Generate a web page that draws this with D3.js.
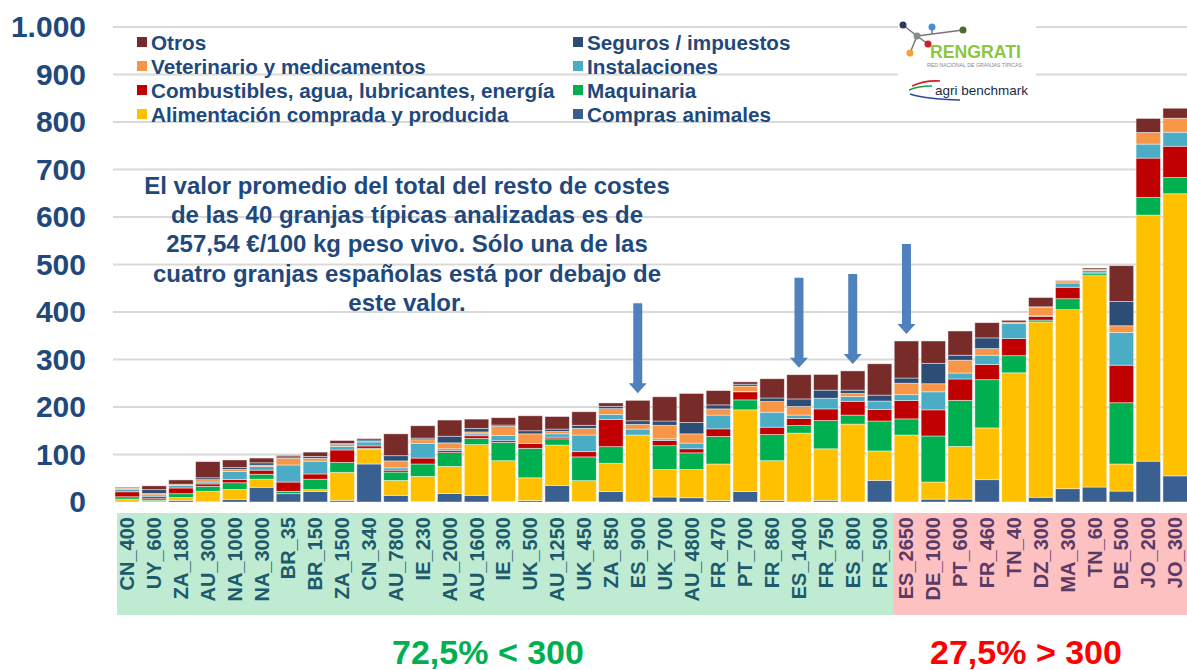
<!DOCTYPE html>
<html>
<head>
<meta charset="utf-8">
<script src="https://cdn.jsdelivr.net/npm/d3@7"></script>
<style>
  body { margin: 0; background: #fff; }
  svg { font-family: "Liberation Sans", Arial, sans-serif; display: block; }
</style>
</head>
<body>
<div id="chart"></div>
<script>
// Farms (typical farms, sorted by total)
const farms = ["CN_400","UY_600","ZA_1800","AU_3000","NA_1000","NA_3000","BR_35","BR_150","ZA_1500","CN_340",
  "AU_7800","IE_230","AU_2000","AU_1600","IE_300","UK_500","AU_1250","UK_450","ZA_850","ES_900",
  "UK_700","AU_4800","FR_470","PT_700","FR_860","ES_1400","FR_750","ES_800","FR_500","ES_2650",
  "DE_1000","PT_600","FR_460","TN_40","DZ_300","MA_300","TN_60","DE_500","JO_200","JO_300"];

// Cost components (€/100 kg peso vivo), bottom to top
const compras = [0, 0, 3.5, 0.5, 5.5, 31, 17.5, 22, 3.5, 80, 14, 1, 18, 14, 1, 3, 35, 1, 22, 0,
  10.5, 9, 3, 22, 3, 0, 3.5, 0, 45.5, 0, 6, 6, 47, 0, 10, 28, 31.5, 23, 86, 55];
const alimentacion = [6, 3, 6, 22, 21, 17, 0, 4, 59, 31, 31.5, 53, 57, 107, 86, 48, 85, 44, 59.5, 141,
  58, 59.5, 77, 172, 84, 145, 108.5, 164, 62, 141, 36, 111, 109, 272, 369, 377, 445, 57, 518, 594];
const maquinaria = [5, 4, 8, 10.5, 14, 10.5, 5, 22, 21, 2, 17.5, 26, 29, 13, 38.5, 62, 13, 50, 35, 0,
  50, 35, 58, 21, 55, 16, 59.5, 19, 63, 34, 97, 97, 101.5, 36, 4, 23, 4, 129, 37, 34];
const combustibles = [10.5, 4, 12, 5, 7, 8.5, 19.5, 11, 26, 5, 4, 12.5, 4, 5.5, 3.5, 10.5, 3.5, 11, 57, 0,
  11, 8.5, 16, 17, 15.5, 15, 24.5, 29, 24, 38.5, 55, 45, 32, 36, 8, 24, 2, 79, 83, 66];
const instalaciones = [5.5, 4, 5, 4, 17, 7.5, 36, 27, 7.5, 8.5, 5, 31, 4, 4, 11, 0, 7, 35, 11, 12.5,
  3.5, 12, 29, 1, 31.5, 7, 22.5, 10, 18, 12.5, 38, 12.5, 19.5, 31.5, 1, 9, 5, 69, 29.5, 29.5];
const veterinario = [2, 3, 3, 5, 4, 3, 14, 6, 4, 1, 14.5, 7.5, 12.5, 4, 19, 20, 5, 14, 12, 10,
  28.5, 19.5, 13, 11, 22.5, 18, 0, 6.5, 0, 24, 17, 27, 14, 3, 18, 3, 2, 14, 24.5, 29.5];
const seguros = [0, 8, 0, 4, 4, 5, 3, 4, 2, 3, 11, 3.5, 14, 7.5, 3, 6.5, 5, 6.5, 5, 7.5,
  9, 24, 8.5, 4, 7.5, 16, 17, 7, 12.5, 11, 43, 10.5, 22.5, 0, 1, 0, 0, 51, 0, 0];
const otros = [2, 8, 9, 34, 16, 10, 3, 9, 6.5, 3, 46, 26, 34, 19.5, 15.5, 31.5, 26.5, 28.5, 7, 43,
  51, 61, 30, 5, 40.5, 51, 33, 40.5, 66, 78, 47, 51, 32, 4, 19.5, 2, 3, 75.5, 29.5, 21];

const yTicks = [0, 100, 200, 300, 400, 500, 600, 700, 800, 900, 1000];
const spanishFarms = ["ES_900", "ES_1400", "ES_800", "ES_2650"];
const threshold = 300;

const note = [
  "El valor promedio del total del resto de costes",
  "de las 40 granjas típicas analizadas es de",
  "257,54 €/100 kg peso vivo. Sólo una de las",
  "cuatro granjas españolas está por debajo de",
  "este valor."
];

const series = [
  { key: "compras", name: "Compras animales", values: compras, color: "#3A6091" },
  { key: "alimentacion", name: "Alimentación comprada y producida", values: alimentacion, color: "#FFC000" },
  { key: "maquinaria", name: "Maquinaria", values: maquinaria, color: "#00B050" },
  { key: "combustibles", name: "Combustibles, agua, lubricantes, energía", values: combustibles, color: "#C00000" },
  { key: "instalaciones", name: "Instalaciones", values: instalaciones, color: "#4BACC6" },
  { key: "veterinario", name: "Veterinario y medicamentos", values: veterinario, color: "#F79646" },
  { key: "seguros", name: "Seguros / impuestos", values: seguros, color: "#2C4D75" },
  { key: "otros", name: "Otros", values: otros, color: "#772C2A" }
];

// Table for d3.stack
const rows = farms.map((f, i) => {
  const r = { farm: f };
  series.forEach(s => r[s.key] = s.values[i]);
  r.total = d3.sum(series, s => s.values[i]);
  return r;
});

const W = 1187, H = 670;
const textBlue = "#1F497D";

const svg = d3.select("#chart").append("svg")
  .attr("width", W)
  .attr("height", H);

const x = d3.scaleBand()
  .domain(farms)
  .range([113.8, 113.8 + 40 * 26.87])
  .paddingInner(0.09)
  .paddingOuter(0.045);

const y = d3.scaleLinear()
  .domain([0, 1000])
  .range([502, 27]);

// Gridlines
svg.append("g")
  .selectAll("line")
  .data(yTicks.filter(d => d > 0))
  .enter()
  .append("line")
  .attr("x1", 113)
  .attr("x2", W)
  .attr("y1", d => y(d))
  .attr("y2", d => y(d))
  .attr("stroke", "#D9D9D9")
  .attr("stroke-width", 2);

// Y axis labels
const yAxis = svg.append("g")
  .attr("transform", "translate(86,0)")
  .call(d3.axisLeft(y).tickValues(yTicks).tickSize(0).tickPadding(0)
    .tickFormat(d => d3.format(",")(d).replace(",", ".")));
yAxis.select(".domain").remove();
yAxis.selectAll("text")
  .attr("fill", textBlue)
  .style("font-size", "30px")
  .style("font-weight", "bold")
  .style("font-family", "'Liberation Sans', Arial, sans-serif");

// Stacked bars
const stack = d3.stack().keys(series.map(s => s.key));
const stacked = stack(rows);
const color = d3.scaleOrdinal().domain(series.map(s => s.key)).range(series.map(s => s.color));

svg.append("g")
  .selectAll("g")
  .data(stacked)
  .enter()
  .append("g")
  .attr("fill", d => color(d.key))
  .selectAll("rect")
  .data(d => d)
  .enter()
  .append("rect")
  .attr("x", d => x(d.data.farm))
  .attr("width", x.bandwidth())
  .attr("y", d => y(d[1]))
  .attr("height", d => Math.max(0, y(d[0]) - y(d[1])))
  .attr("stroke", "rgba(255,255,255,0.55)")
  .attr("stroke-width", 0.8);

// Category band under the axis (green < 300, pink > 300)
const lowFarms = rows.filter(r => r.total < threshold).map(r => r.farm);
const highFarms = rows.filter(r => r.total >= threshold).map(r => r.farm);
const splitX = x(highFarms[0]) - (x.step() - x.bandwidth()) / 2;

svg.append("rect")
  .attr("x", x(lowFarms[0]) + 2)
  .attr("y", 513)
  .attr("width", splitX - x(lowFarms[0]) - 2)
  .attr("height", 102)
  .attr("fill", "#BFEBD2");
svg.append("rect")
  .attr("x", splitX)
  .attr("y", 513)
  .attr("width", W - splitX)
  .attr("height", 102)
  .attr("fill", "#FEC1C1");

// X labels
svg.append("g")
  .selectAll("text")
  .data(rows)
  .enter()
  .append("text")
  .attr("transform", d => `translate(${x(d.farm) + x.bandwidth() / 2 + 7},517) rotate(-90)`)
  .attr("text-anchor", "end")
  .attr("fill", d => d.total < threshold ? "#1D5A6C" : "#5B3A68")
  .style("font-size", "20px")
  .style("font-weight", "bold")
  .text(d => d.farm);

// Bottom summary texts
const pctLow = d3.format(".1f")(lowFarms.length / farms.length * 100).replace(".", ",");
const pctHigh = d3.format(".1f")(highFarms.length / farms.length * 100).replace(".", ",");
svg.append("text")
  .attr("x", 488).attr("y", 664)
  .attr("text-anchor", "middle")
  .attr("fill", "#00B050")
  .style("font-size", "34px").style("font-weight", "bold")
  .text(`${pctLow}% < ${threshold}`);
svg.append("text")
  .attr("x", 1026).attr("y", 664)
  .attr("text-anchor", "middle")
  .attr("fill", "#FF0000")
  .style("font-size", "34px").style("font-weight", "bold")
  .text(`${pctHigh}% > ${threshold}`);

// Arrows pointing at Spanish farms
const arrow = (cx, tip) => {
  const len = 90, sw = 4.5, hw = 9, hh = 10;
  return `M${cx - sw},${tip - len} L${cx + sw},${tip - len} L${cx + sw},${tip - hh} L${cx + hw},${tip - hh}
          L${cx},${tip} L${cx - hw},${tip - hh} L${cx - sw},${tip - hh} Z`;
};
svg.append("g")
  .selectAll("path")
  .data(rows.filter(r => spanishFarms.includes(r.farm)))
  .enter()
  .append("path")
  .attr("d", d => arrow(x(d.farm) + x.bandwidth() / 2, y(d.total) - 7))
  .attr("fill", "#4F81BD");

// Annotation
svg.append("text")
  .attr("x", 407)
  .attr("y", 194)
  .attr("text-anchor", "middle")
  .attr("fill", textBlue)
  .style("font-size", "24px")
  .style("font-weight", "bold")
  .selectAll("tspan")
  .data(note)
  .enter()
  .append("tspan")
  .attr("x", 407)
  .attr("dy", (d, i) => i === 0 ? 0 : 29.2)
  .text(d => d);

// Legend (two columns, Excel order)
const legendCols = [
  ["otros", "veterinario", "combustibles", "alimentacion"],
  ["seguros", "instalaciones", "maquinaria", "compras"]
];
const legendX = [137, 573];
legendCols.forEach((col, ci) => {
  const g = svg.append("g").attr("transform", `translate(${legendX[ci]},0)`);
  const items = g.selectAll("g")
    .data(col.map(k => series.find(s => s.key === k)))
    .enter()
    .append("g")
    .attr("transform", (d, i) => `translate(0,${42 + i * 24})`);
  items.append("rect")
    .attr("x", 0).attr("y", -5)
    .attr("width", 10).attr("height", 10)
    .attr("fill", d => d.color);
  items.append("text")
    .attr("x", 14).attr("y", 7.5)
    .attr("fill", textBlue)
    .style("font-size", "20.7px")
    .style("font-weight", "bold")
    .text(d => d.name);
});

// Logo (RENGRATI / agri benchmark)
const logo = svg.append("g");
logo.append("rect").attr("x", 898).attr("y", 12).attr("width", 138).attr("height", 92).attr("fill", "#fff");
const nodes = [[903, 25, "#2D3A5A"], [917, 36, "#8A8A8A"], [932, 27, "#4A90D0"], [963, 30, "#4E6B2E"], [928, 44, "#D0202A"], [910, 53, "#F5A030"]];
logo.append("path")
  .attr("d", "M903,25 L917,36 L928,44 M917,36 L910,53 M917,36 L963,30 M932,27 L932,34")
  .attr("stroke", "#777").attr("stroke-width", 1.5).attr("fill", "none");
logo.selectAll("circle").data(nodes).enter().append("circle")
  .attr("cx", d => d[0]).attr("cy", d => d[1]).attr("r", 3.5).attr("fill", d => d[2]);
logo.append("text").attr("x", 930).attr("y", 58)
  .attr("textLength", 91).attr("lengthAdjust", "spacingAndGlyphs")
  .attr("fill", "#8DC63F").style("font-size", "19px").style("font-weight", "bold")
  .text("RENGRATI");
logo.append("text").attr("x", 927).attr("y", 67)
  .attr("textLength", 95).attr("lengthAdjust", "spacingAndGlyphs")
  .attr("fill", "#888").style("font-size", "5.5px")
  .text("RED NACIONAL DE GRANJAS TÍPICAS");
logo.append("path").attr("d", "M912,86 Q925,80 940,81").attr("stroke", "#D02020").attr("stroke-width", 1.6).attr("fill", "none");
logo.append("path").attr("d", "M909,90 Q918,86 932,86").attr("stroke", "#1E9E4A").attr("stroke-width", 1.6).attr("fill", "none");
logo.append("path").attr("d", "M910,94 Q925,99 960,100").attr("stroke", "#2A4A9A").attr("stroke-width", 1.6).attr("fill", "none");
logo.append("text").attr("x", 935).attr("y", 95)
  .attr("fill", "#1A2A44").style("font-size", "13.5px")
  .text("agri benchmark");
</script>
</body>
</html>
